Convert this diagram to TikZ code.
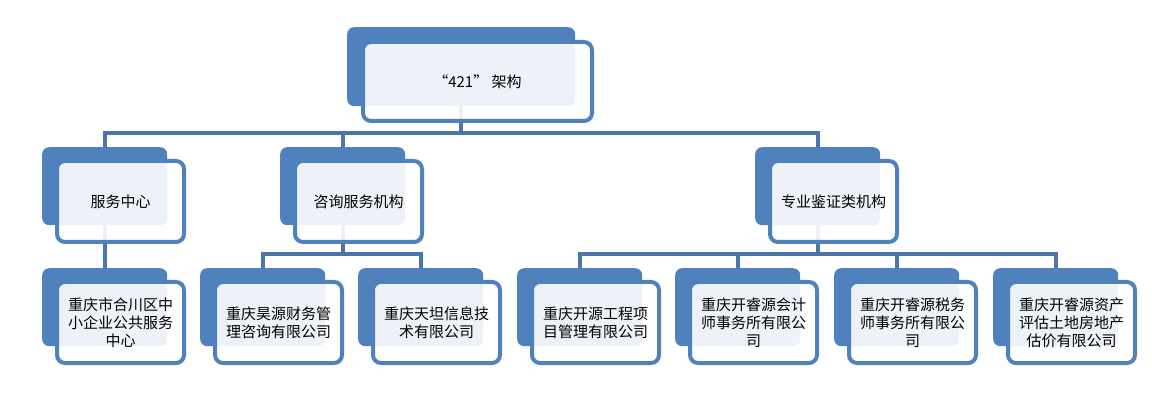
\documentclass[tikz,border=0pt]{standalone}
\usepackage{fontspec}
\setmainfont{Noto Sans CJK SC}
\definecolor{boxblue}{HTML}{4F81BD}
\definecolor{linkblue}{HTML}{4A76AC}
\tikzset{
  backbox/.style={fill=boxblue,rounded corners=7pt,anchor=north west,inner sep=0pt,
    minimum width=125pt,minimum height=78pt},
  frontbox/.style={draw=boxblue,line width=4pt,fill=white,fill opacity=0.9,text opacity=1,
    rounded corners=8pt,anchor=north west,inner sep=0pt,minimum width=127pt,minimum height=81pt,
    align=center,font=\fontsize{15}{18}\selectfont},
  link/.style={draw=linkblue,line width=4pt}
}

\begin{document}
\begin{tikzpicture}[x=1pt,y=-1pt]
\useasboundingbox (0,0) rectangle (1152,406);
\node[backbox,minimum width=228pt,minimum height=79pt] (top-b) at (347,27) {};
\foreach \n/\x in {s1/42,s2/280,s3/755}
    \node[backbox] (\n-b) at (\x,147) {};
\foreach \n/\x in {l1/42,l2/200,l3/358,l4/517,l5/675,l6/834,l7/993}
    \node[backbox] (\n-b) at (\x,268) {};
\coordinate (bus) at (0,133);
\coordinate (bus2) at (0,254);
\draw[link] (top-b.south) -- (top-b.south |- bus);
\draw[link] (s1-b.north) -- (s1-b.north |- bus) -- (s3-b.north |- bus) -- (s3-b.north);
\draw[link] (s2-b.north) -- (s2-b.north |- bus);
\draw[link] (s1-b.south) -- (l1-b.north);
\draw[link] (s2-b.south) -- (s2-b.south |- bus2);
\draw[link] (l2-b.north) -- (l2-b.north |- bus2) -- (l3-b.north |- bus2) -- (l3-b.north);
\draw[link] (s3-b.south) -- (s3-b.south |- bus2);
\draw[link] (l4-b.north) -- (l4-b.north |- bus2) -- (l7-b.north |- bus2) -- (l7-b.north);
\foreach \n in {l5,l6}
    \draw[link] (\n-b.north) -- (\n-b.north |- bus2);
\node[frontbox,minimum width=229pt,minimum height=79pt] (top) at ([shift={(14,13)}]top-b.north west) {“421” 架构};
\foreach \n/\t in {s1/服务中心,s2/咨询服务机构,s3/专业鉴证类机构}
    \node[frontbox] (\n) at ([shift={(13,12)}]\n-b.north west) {\t};
\foreach \n/\t in {l1/{重庆市合川区中\\小企业公共服务\\中心},l2/{重庆昊源财务管\\理咨询有限公司},
    l3/{重庆天坦信息技\\术有限公司},l4/{重庆开源工程项\\目管理有限公司},
    l5/{重庆开睿源会计\\师事务所有限公\\司},l6/{重庆开睿源税务\\师事务所有限公\\司},
    l7/{重庆开睿源资产\\评估土地房地产\\估价有限公司}}
    \node[frontbox] (\n) at ([shift={(13,12)}]\n-b.north west) {\t};
\end{tikzpicture}
\end{document}
